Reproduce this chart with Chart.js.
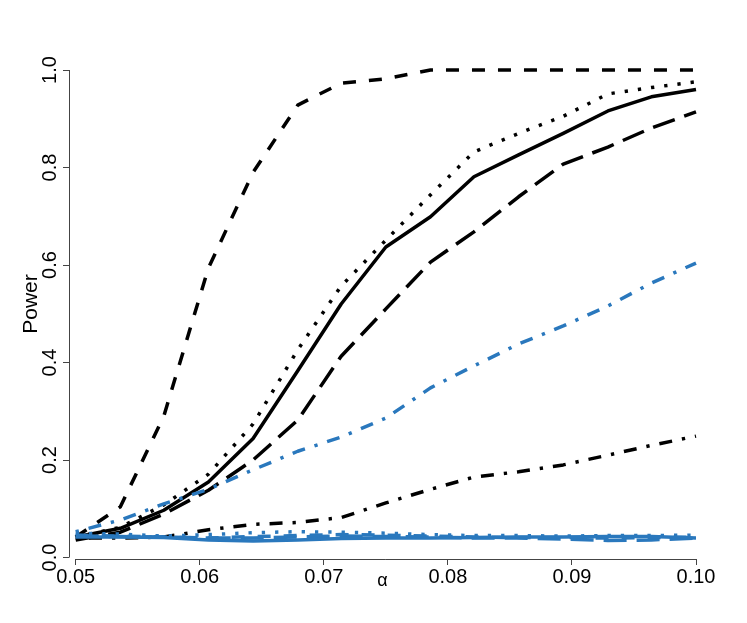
<!DOCTYPE html>
<html>
<head>
<meta charset="utf-8">
<script src="https://cdn.jsdelivr.net/npm/chart.js@4/dist/chart.umd.min.js"></script>
<style>
  html, body { margin: 0; padding: 0; background: #fff; }
  #wrap { width: 747px; height: 623px; }
</style>
</head>
<body>
<div id="wrap"><canvas id="c"></canvas></div>
<script>
// significance levels (x) and axis ticks
const alphaLevels = [0.05, 0.0536, 0.0571, 0.0607, 0.0643, 0.0679, 0.0714, 0.075, 0.0786, 0.0821, 0.0857, 0.0893, 0.0929, 0.0964, 0.10];
const xTicks = [0.05, 0.06, 0.07, 0.08, 0.09, 0.10];
const yTicks = [0.0, 0.2, 0.4, 0.6, 0.8, 1.0];

// black curves
const blackDashed  = [0.042, 0.104, 0.29, 0.594, 0.79, 0.928, 0.973, 0.982, 1.0, 1.0, 1.0, 1.0, 1.0, 1.0, 1.0];
const blackDotted  = [0.042, 0.062, 0.108, 0.171, 0.274, 0.426, 0.557, 0.651, 0.744, 0.832, 0.87, 0.905, 0.951, 0.964, 0.976];
const blackSolid   = [0.042, 0.06, 0.097, 0.155, 0.244, 0.383, 0.52, 0.637, 0.699, 0.781, 0.826, 0.87, 0.916, 0.945, 0.96];
const blackLong    = [0.036, 0.052, 0.089, 0.138, 0.2, 0.282, 0.413, 0.51, 0.606, 0.668, 0.74, 0.807, 0.842, 0.881, 0.914];
const blackDotDash = [0.04, 0.04, 0.042, 0.057, 0.068, 0.072, 0.082, 0.112, 0.14, 0.165, 0.176, 0.19, 0.21, 0.23, 0.249];

// blue curves
const blueDotDash  = [0.053, 0.077, 0.11, 0.14, 0.18, 0.218, 0.247, 0.286, 0.348, 0.393, 0.438, 0.475, 0.516, 0.563, 0.604];
const blueSolid    = [0.042, 0.042, 0.041, 0.036, 0.034, 0.036, 0.039, 0.04, 0.04, 0.041, 0.042, 0.042, 0.043, 0.043, 0.04];
const blueDashed   = [0.046, 0.044, 0.042, 0.04, 0.043, 0.045, 0.047, 0.046, 0.044, 0.042, 0.041, 0.041, 0.04, 0.041, 0.042];
const blueDotted   = [0.05, 0.048, 0.044, 0.047, 0.051, 0.053, 0.052, 0.05, 0.047, 0.045, 0.045, 0.044, 0.045, 0.045, 0.046];
const blueLong     = [0.044, 0.043, 0.042, 0.04, 0.04, 0.042, 0.044, 0.043, 0.042, 0.04, 0.04, 0.038, 0.035, 0.036, 0.04];

const BLACK = '#000000';
const BLUE = '#2a78bd';
const FONT = "'Liberation Sans Narrow', 'Liberation Sans', Arial, sans-serif";

// line types
const DASH = {
  solid: [],
  dashed: [13, 13],
  dotted: [3.3, 10],
  dotdash: [3.3, 10, 13, 10],
  longdash: [23, 10]
};

function series(values, color, lty, order) {
  return {
    data: alphaLevels.map((a, i) => ({ x: a, y: values[i] })),
    borderColor: color,
    borderWidth: 3.5,
    borderDash: DASH[lty],
    borderCapStyle: 'butt',
    borderJoinStyle: 'round',
    pointRadius: 0,
    tension: 0,
    fill: false,
    clip: false,
    order: order
  };
}

const datasets = [
  series(blackDashed, BLACK, 'dashed', 1),
  series(blackDotted, BLACK, 'dotted', 1),
  series(blackSolid, BLACK, 'solid', 1),
  series(blackLong, BLACK, 'longdash', 1),
  series(blackDotDash, BLACK, 'dotdash', 1),
  series(blueDotDash, BLUE, 'dotdash', 0),
  series(blueSolid, BLUE, 'solid', 0),
  series(blueDashed, BLUE, 'dashed', 0),
  series(blueDotted, BLUE, 'dotted', 0),
  series(blueLong, BLUE, 'longdash', 0)
];

// R-style axis lines spanning only the tick range, plus the y label
const axisLines = {
  id: 'axisLines',
  afterDraw(chart) {
    const { ctx, chartArea, scales } = chart;
    ctx.save();
    ctx.strokeStyle = '#444';
    ctx.lineWidth = 1;
    ctx.beginPath();
    const yb = Math.round(chartArea.bottom) + 0.5;
    ctx.moveTo(scales.x.getPixelForValue(xTicks[0]), yb);
    ctx.lineTo(scales.x.getPixelForValue(xTicks[xTicks.length - 1]), yb);
    const xl = Math.round(chartArea.left) + 0.5;
    ctx.moveTo(xl, scales.y.getPixelForValue(yTicks[0]));
    ctx.lineTo(xl, scales.y.getPixelForValue(yTicks[yTicks.length - 1]));
    ctx.stroke();

    // "Power" sits a little above the middle of the axis, as in the original
    ctx.translate(31, scales.y.getPixelForValue(0.52));
    ctx.rotate(-Math.PI / 2);
    ctx.fillStyle = '#000';
    ctx.font = '21px ' + FONT;
    ctx.textAlign = 'center';
    ctx.textBaseline = 'middle';
    ctx.fillText('Power', 0, 0);
    ctx.restore();
  }
};

new Chart(document.getElementById('c'), {
  type: 'line',
  data: { datasets },
  options: {
    responsive: true,
    maintainAspectRatio: false,
    devicePixelRatio: 1,
    animation: false,
    layout: { padding: { top: 70, right: 51, left: 0, bottom: 0 } },
    plugins: { legend: { display: false }, tooltip: { enabled: false } },
    scales: {
      x: {
        type: 'linear',
        min: 0.04946,
        max: 0.10,
        afterBuildTicks: s => { s.ticks = xTicks.map(v => ({ value: v })); },
        afterFit: s => { s.height = 64; },
        border: { display: false },
        grid: { drawOnChartArea: false, drawTicks: true, tickLength: 6, tickColor: '#444', lineWidth: 1 },
        ticks: {
          color: '#000',
          font: { family: FONT, size: 20 },
          padding: 0,
          maxRotation: 0,
          callback: v => Number(v).toFixed(2)
        },
        title: {
          display: true,
          text: 'α',
          color: '#000',
          font: { family: FONT, size: 18 },
          padding: { top: 0, bottom: 31 }
        }
      },
      y: {
        type: 'linear',
        min: -0.003,
        max: 1.0,
        afterBuildTicks: s => { s.ticks = yTicks.map(v => ({ value: v })); },
        afterFit: s => { s.width = 69; },
        border: { display: false },
        grid: { drawOnChartArea: false, drawTicks: true, tickLength: 6, tickColor: '#444', lineWidth: 1 },
        ticks: {
          color: '#000',
          font: { family: FONT, size: 20 },
          padding: -1,
          minRotation: 90,
          maxRotation: 90,
          crossAlign: 'center',
          callback: v => Number(v).toFixed(1)
        },
        title: { display: false }
      }
    }
  },
  plugins: [axisLines]
});
</script>
</body>
</html>
